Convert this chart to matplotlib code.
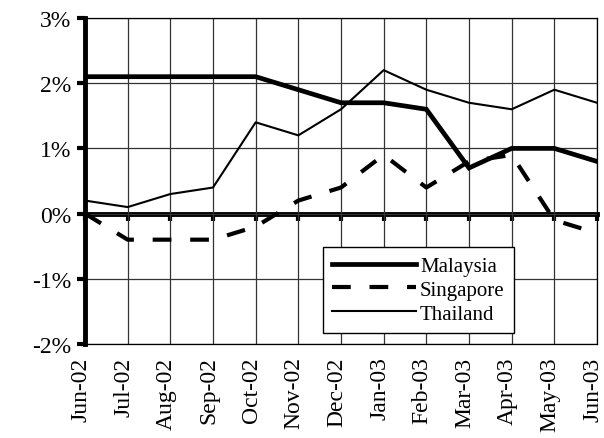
import matplotlib
matplotlib.use("Agg")
import matplotlib.pyplot as plt
from matplotlib.transforms import ScaledTranslation

months = ["Jun-02", "Jul-02", "Aug-02", "Sep-02", "Oct-02", "Nov-02", "Dec-02",
          "Jan-03", "Feb-03", "Mar-03", "Apr-03", "May-03", "Jun-03"]
malaysia = [2.1, 2.1, 2.1, 2.1, 2.1, 1.9, 1.7, 1.7, 1.6, 0.7, 1.0, 1.0, 0.8]
singapore = [0.0, -0.4, -0.4, -0.4, -0.2, 0.2, 0.4, 0.9, 0.4, 0.8, 0.9, -0.1, -0.3]
thailand = [0.2, 0.1, 0.3, 0.4, 1.4, 1.2, 1.6, 2.2, 1.9, 1.7, 1.6, 1.9, 1.7]
yticks = [-2, -1, 0, 1, 2, 3]
ytick_labels = ["-2%", "-1%", "0%", "1%", "2%", "3%"]

plt.rcParams['font.family'] = ['Liberation Serif', 'DejaVu Serif']

fig = plt.figure(figsize=(6.04, 4.39), dpi=100)
ax = fig.add_axes([85/604, 1-345/439, 512/604, 326/439])

x = list(range(len(months)))
ax.plot(x, malaysia, color='black', lw=3.4, label='Malaysia', solid_joinstyle='miter', zorder=4)
ax.plot(x, singapore, color='black', lw=3.0, dashes=(4.5, 4.5), label='Singapore', zorder=4)
ax.plot(x, thailand, color='black', lw=1.5, label='Thailand', zorder=4)

ax.set_xlim(0, 12)
ax.set_ylim(-2, 3)
ax.set_yticks(yticks)
ax.set_yticklabels(ytick_labels, fontsize=17)
ax.set_xticks(x)
ax.set_xticklabels(months, rotation=90, fontsize=17)
ax.tick_params(axis='x', length=0, pad=9)
ax.tick_params(axis='y', length=6, width=3, direction='out', pad=4)

offset = ScaledTranslation(-4/100, 0, fig.dpi_scale_trans)
for lbl in ax.get_xticklabels():
    lbl.set_transform(lbl.get_transform() + offset)

ax.grid(True, color='#333333', lw=0.9)
ax.set_axisbelow(True)

for s in ['top', 'right', 'bottom']:
    ax.spines[s].set_linewidth(0.9)
ax.spines['left'].set_linewidth(3.5)

sec = ax.secondary_xaxis(0.4)
sec.set_xticks(x)
sec.tick_params(axis='x', length=5, width=3, direction='out', labelbottom=False)
sec.spines['bottom'].set_linewidth(3.5)

leg = ax.legend(loc='lower left', bbox_to_anchor=(0.465, 0.034), fontsize=15,
                frameon=True, fancybox=False, handlelength=4.0, handletextpad=0.2,
                borderpad=0.45, labelspacing=0.2, borderaxespad=0)
leg.get_frame().set_edgecolor('black')
leg.get_frame().set_linewidth(1.0)
leg.get_frame().set_alpha(1)

fig.savefig("out.png", dpi=100)
